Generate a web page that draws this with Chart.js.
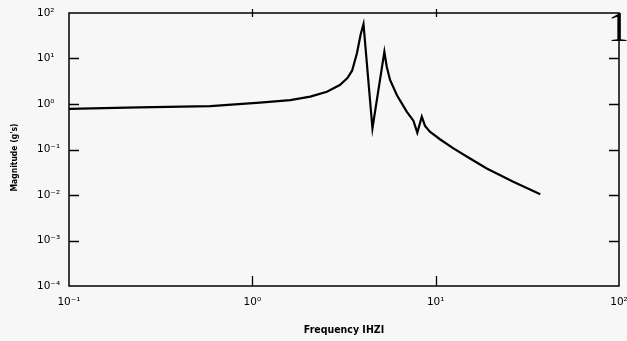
<!DOCTYPE html>
<html>
<head>
<meta charset="utf-8">
<script src="https://cdn.jsdelivr.net/npm/chart.js@4/dist/chart.umd.min.js"></script>
<style>
  html, body { margin: 0; padding: 0; background: #f7f7f7; }
  #wrap { position: relative; width: 627px; height: 341px; overflow: hidden; }
  #pg { position: absolute; left: 608px; top: 6px; font-family: 'Liberation Serif', 'DejaVu Serif', serif; font-size: 42px; line-height: 42px; color: #000; }
</style>
</head>
<body>
<div id="wrap">
  <canvas id="c" width="627" height="341"></canvas>
  <div id="pg">1</div>
</div>
<script>
// ---- data ----
const frequencyHz = [0.1, 0.24, 0.59, 1.10, 1.61, 2.07, 2.55, 3.0, 3.3, 3.5, 3.72, 3.9, 4.04, 4.52, 5.25, 5.41, 5.64, 6.14, 6.95, 7.56, 7.94, 8.4, 8.75, 9.3, 10.6, 12.5, 15.4, 19.0, 26.5, 37.2];
const magnitudeG  = [0.78, 0.84, 0.90, 1.07, 1.22, 1.45, 1.86, 2.62, 3.7, 5.4, 13.0, 34.0, 57.0, 0.292, 14.1, 6.6, 3.37, 1.58, 0.68, 0.43, 0.234, 0.526, 0.33, 0.246, 0.166, 0.106, 0.0636, 0.0384, 0.0196, 0.0104];
const xTickValues = [0.1, 1, 10, 100];
const xTickLabels = ['10\u207B\u00B9', '10\u2070', '10\u00B9', '10\u00B2'];
const yTickValues = [1e-4, 1e-3, 1e-2, 1e-1, 1, 10, 100];
const yTickLabels = ['10\u207B\u2074', '10\u207B\u00B3', '10\u207B\u00B2', '10\u207B\u00B9', '10\u2070', '10\u00B9', '10\u00B2'];
const xTitle = 'Frequency IHZI';
const yTitle = "Magnitude (g's)";

const points = frequencyHz.map((f, i) => ({ x: f, y: magnitudeG[i] }));

const frameTicks = {
  id: 'frameTicks',
  afterDraw(chart) {
    const { ctx, chartArea: a, scales: { x, y } } = chart;
    ctx.save();
    ctx.strokeStyle = '#000';
    ctx.lineWidth = 1.5;
    ctx.strokeRect(a.left, a.top, a.right - a.left, a.bottom - a.top);
    ctx.lineWidth = 1.3;
    ctx.beginPath();
    yTickValues.slice(1, -1).forEach(v => {
      const py = Math.round(y.getPixelForValue(v)) + 0.5;
      ctx.moveTo(a.left, py); ctx.lineTo(a.left + 10, py);
      ctx.moveTo(a.right, py); ctx.lineTo(a.right - 10, py);
    });
    xTickValues.slice(1, -1).forEach(v => {
      const px = Math.round(x.getPixelForValue(v)) + 0.5;
      ctx.moveTo(px, a.top - 4); ctx.lineTo(px, a.top + 4);
      ctx.moveTo(px, a.bottom); ctx.lineTo(px, a.bottom - 10);
    });
    ctx.stroke();
    // y axis title
    ctx.translate(15, (a.top + a.bottom) / 2 + 8);
    ctx.rotate(-Math.PI / 2);
    ctx.fillStyle = '#000';
    ctx.font = "bold 8.5px 'DejaVu Sans Condensed', 'DejaVu Sans', sans-serif";
    ctx.textAlign = 'center';
    ctx.textBaseline = 'middle';
    ctx.fillText(yTitle, 0, 0);
    ctx.restore();
  }
};

new Chart(document.getElementById('c'), {
  type: 'line',
  data: {
    datasets: [{
      data: points,
      borderColor: '#000',
      borderWidth: 2.2,
      pointRadius: 0,
      tension: 0,
      fill: false
    }]
  },
  options: {
    responsive: false,
    devicePixelRatio: 1,
    animation: false,
    layout: { padding: { left: 37, top: 13, right: 8, bottom: 0 } },
    plugins: { legend: { display: false }, tooltip: { enabled: false } },
    scales: {
      x: {
        type: 'logarithmic',
        min: 0.1, max: 100,
        grid: { display: false, drawTicks: false },
        border: { display: false },
        afterBuildTicks: s => { s.ticks = xTickValues.map(v => ({ value: v })); },
        afterFit: s => { s.height = 55; s.paddingLeft = 0; s.paddingRight = 0; },
        ticks: {
          padding: 10,
          maxRotation: 0,
          autoSkip: false,
          color: '#000',
          font: { family: "'DejaVu Sans'", size: 10.5 },
          callback: (v, i) => xTickLabels[i]
        },
        title: {
          display: true,
          text: xTitle,
          color: '#000',
          font: { family: "'DejaVu Sans Condensed', 'DejaVu Sans'", size: 10.5, weight: 'bold' },
          padding: { top: 0, bottom: 4 }
        }
      },
      y: {
        type: 'logarithmic',
        min: 1e-4, max: 100,
        grid: { display: false, drawTicks: false },
        border: { display: false },
        afterBuildTicks: s => { s.ticks = yTickValues.map(v => ({ value: v })); },
        afterFit: s => { s.width = 32; s.paddingTop = 0; s.paddingBottom = 0; },
        ticks: {
          crossAlign: 'far',
          padding: 4,
          autoSkip: false,
          color: '#000',
          font: { family: "'DejaVu Sans'", size: 10.5 },
          callback: (v, i) => yTickLabels[i]
        }
      }
    }
  },
  plugins: [frameTicks]
});
</script>
</body>
</html>
